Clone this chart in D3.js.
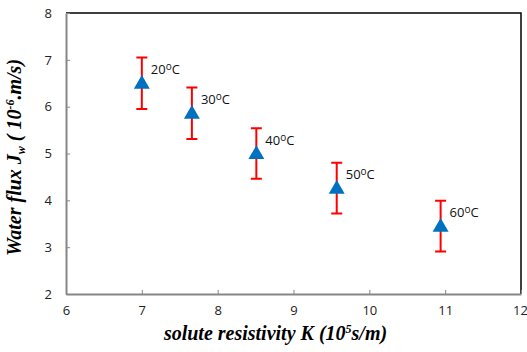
<!DOCTYPE html>
<html>
<head>
<meta charset="utf-8">
<script src="https://cdn.jsdelivr.net/npm/d3@7"></script>
<style>
  body { margin: 0; background: #fff; }
  svg { display: block; }
</style>
</head>
<body>
<div id="maViz"></div>
<script>
// donnees
const temps = ["20", "30", "40", "50", "60"];          // temperature (°C)
const resistK = [7.0, 7.66, 8.51, 9.57, 10.94];       // K (10^5 s/m)
const fluxJw = [6.5, 5.86, 5.0, 4.26, 3.45];          // Jw (10^-6 m/s)
const errJw = [0.55, 0.55, 0.54, 0.54, 0.54];         // barre d'erreur +/-
const xTicks = [6, 7, 8, 9, 10, 11, 12];
const yTicks = [2, 3, 4, 5, 6, 7, 8];

const W = 527, H = 352;
const margin = {top: 13, right: 6, bottom: 58, left: 66};
const width = W - margin.left - margin.right;
const height = H - margin.top - margin.bottom;

const svg = d3.select("#maViz")
  .append("svg")
    .attr("width", W)
    .attr("height", H)
  .append("g")
    .attr("transform", `translate(${margin.left},${margin.top})`);

const x = d3.scaleLinear().domain([6, 12]).range([0, width]);
const y = d3.scaleLinear().domain([2, 8]).range([height, 0]);

// cadre haut + droite (noir)
svg.append("path")
  .attr("d", `M0,0H${width}V${height}`)
  .attr("fill", "none")
  .attr("stroke", "#000")
  .attr("stroke-width", 1.5);

// axe X
const gx = svg.append("g")
  .attr("transform", `translate(0,${height})`)
  .call(d3.axisBottom(x).tickValues(xTicks).tickFormat(d3.format("d"))
          .tickSizeInner(-4).tickSizeOuter(0).tickPadding(12));
gx.select(".domain").attr("stroke", "#868686").attr("stroke-width", 2);
gx.selectAll(".tick line").attr("stroke", "#868686").attr("stroke-width", 1);
gx.selectAll("text")
  .style("font-family", "'Open Sans', 'Liberation Sans', sans-serif")
  .style("font-size", "13px")
  .attr("fill", "#222");
gx.selectAll(".tick").filter(d => d === 12).select("text").attr("dx", -1);

// axe Y
const gy = svg.append("g")
  .call(d3.axisLeft(y).tickValues(yTicks).tickFormat(d3.format("d"))
          .tickSizeInner(-4).tickSizeOuter(0).tickPadding(14));
gy.select(".domain").attr("stroke", "#868686").attr("stroke-width", 2);
gy.selectAll(".tick line").attr("stroke", "#868686").attr("stroke-width", 1);
gy.selectAll("text")
  .style("font-family", "'Open Sans', 'Liberation Sans', sans-serif")
  .style("font-size", "13px")
  .attr("fill", "#222");

// barres d'erreur
const Erreurs = svg.append("g")
  .attr("stroke", "#ff0000")
  .attr("stroke-width", 2)
  .attr("fill", "none");

Erreurs.selectAll("path")
  .data(d3.range(resistK.length))
  .join("path")
    .attr("d", i => {
      const cx = x(resistK[i]);
      const y1 = y(fluxJw[i] + errJw[i]);
      const y2 = y(fluxJw[i] - errJw[i]);
      return `M${cx},${y1}V${y2}M${cx - 5.5},${y1}H${cx + 5.5}M${cx - 5.5},${y2}H${cx + 5.5}`;
    });

// triangles
const tri = d3.symbol().type(d3.symbolTriangle).size(110);
svg.append("g")
  .selectAll("path")
  .data(d3.range(resistK.length))
  .join("path")
    .attr("d", tri)
    .attr("transform", i => `translate(${x(resistK[i])},${y(fluxJw[i]) + 1})`)
    .attr("fill", "#0070c0");

// etiquettes temperature
const Titres = svg.append("g")
  .style("font-family", "'Open Sans', 'Liberation Sans', sans-serif")
  .style("font-size", "13px")
  .attr("fill", "#111");

const lab = Titres.selectAll("text")
  .data(d3.range(temps.length))
  .join("text")
    .attr("x", i => x(resistK[i]) + 9)
    .attr("y", i => y(fluxJw[i]) - 9);
lab.append("tspan").text(i => temps[i]);
lab.append("tspan").attr("dy", -4).style("font-size", "10px").text("o");
lab.append("tspan").attr("dy", 4).text("C");

// titre axe X
const tx = svg.append("text")
  .attr("x", width / 2 - 18)
  .attr("y", height + 46)
  .attr("text-anchor", "middle")
  .style("font-family", "'Liberation Serif', 'Times New Roman', serif")
  .style("font-size", "20px")
  .style("font-weight", "bold")
  .style("font-style", "italic")
  .attr("fill", "#000");
tx.append("tspan").text("solute resistivity K (10");
tx.append("tspan").attr("dy", -7).style("font-size", "12px").text("5");
tx.append("tspan").attr("dy", 7).text("s/m)");

// titre axe Y
const ty = svg.append("text")
  .attr("transform", `translate(${-45},${height / 2 + 4}) rotate(-90)`)
  .attr("text-anchor", "middle")
  .style("font-family", "'Liberation Serif', 'Times New Roman', serif")
  .style("font-size", "20px")
  .style("font-weight", "bold")
  .style("font-style", "italic")
  .attr("fill", "#000");
ty.append("tspan").text("Water flux J");
ty.append("tspan").attr("dy", 4).style("font-size", "12px").text("w");
ty.append("tspan").attr("dy", -4).text(" ( 10");
ty.append("tspan").attr("dy", -7).style("font-size", "12px").text("-6");
ty.append("tspan").attr("dy", 7).text(".m/s)");
</script>
</body>
</html>
